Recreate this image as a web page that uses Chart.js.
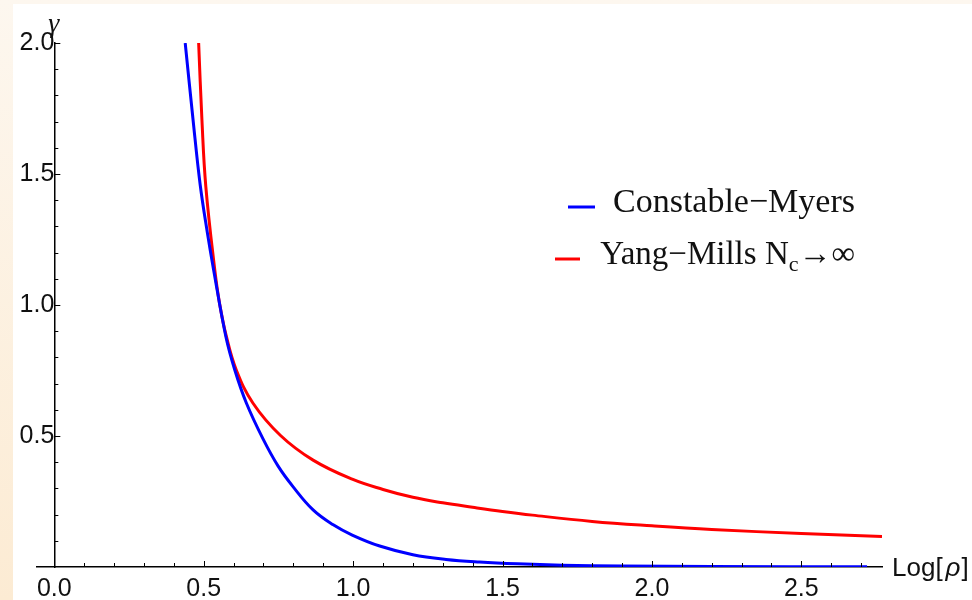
<!DOCTYPE html>
<html>
<head>
<meta charset="utf-8">
<script src="https://cdn.jsdelivr.net/npm/chart.js@4.4.1/dist/chart.umd.min.js"></script>
<style>
  html, body { margin: 0; padding: 0; }
  body {
    width: 972px; height: 600px; overflow: hidden; position: relative;
    background: linear-gradient(#fdf7ef, #fcebd3);
  }
  #panel { position: absolute; left: 13px; top: 4px; right: 0; bottom: 0; background: #fff; }
  #chart { position: absolute; left: 0; top: 0; }
</style>
</head>
<body>
<div id="panel"></div>
<canvas id="chart" width="972" height="600"></canvas>
<script>
// gamma as a function of Log[rho] for the two models
const cmLabel = 'Constable\u2212Myers';
const cmLogRho = [0.438, 0.464, 0.488, 0.513, 0.533, 0.574, 0.604, 0.643, 0.698, 0.749, 0.80,
                  0.866, 0.932, 0.997, 1.089, 1.20, 1.311, 1.423, 1.55, 1.70, 1.90, 2.20, 2.72];
const cmGamma  = [2.00, 1.71, 1.46, 1.27, 1.135, 0.88, 0.752, 0.625, 0.49, 0.385, 0.305,
                  0.218, 0.162, 0.122, 0.080, 0.047, 0.029, 0.019, 0.012, 0.007, 0.004, 0.002, 0.001];

// legend text is split so the "c" can be set as a subscript
const ymLabelParts = ['Yang\u2212Mills N', 'c', '\u2192\u221e'];
const ymLogRho = [0.483, 0.494, 0.507, 0.537, 0.553, 0.576, 0.609, 0.665, 0.757, 0.866,
                  0.997, 1.10, 1.20, 1.30, 1.40, 1.50, 1.60, 1.80, 2.00, 2.20, 2.50, 2.77];
const ymGamma  = [2.00, 1.706, 1.452, 1.134, 1.006, 0.879, 0.752, 0.625, 0.502, 0.408,
                  0.335, 0.296, 0.266, 0.245, 0.228, 0.212, 0.198, 0.174, 0.157, 0.143, 0.128, 0.116];

const xTickValues = [0.0, 0.5, 1.0, 1.5, 2.0, 2.5];
const yTickValues = [0.5, 1.0, 1.5, 2.0];
const minorStep = 0.1;

const textColor = '#111';
const sansFont = '"Liberation Sans", Arial, sans-serif';
const serifFont = '"Liberation Serif", "Times New Roman", serif';

const toPoints = (xs, ys) => xs.map((x, i) => ({ x: x, y: ys[i] }));

// Mathematica-style decorations: inward ticks, axis titles and the legend box
const axisDecor = {
    id: 'axisDecor',
    afterDatasetsDraw(chart) {
        const { ctx, scales: { x, y } } = chart;
        const x0 = x.getPixelForValue(0);
        const y0 = y.getPixelForValue(0);

        ctx.save();
        ctx.strokeStyle = '#000';
        ctx.lineWidth = 1;
        ctx.beginPath();
        // y ticks point right into the plot
        for (let i = 1; i * minorStep <= y.max + 1e-9; i++) {
            const py = Math.round(y.getPixelForValue(i * minorStep)) + 0.5;
            const len = i % 5 === 0 ? 6 : 4;
            ctx.moveTo(x0, py);
            ctx.lineTo(x0 + len, py);
        }
        // x ticks point up
        for (let i = 1; i * minorStep <= x.max + 1e-9; i++) {
            const px = Math.round(x.getPixelForValue(i * minorStep)) + 0.5;
            const len = i % 5 === 0 ? 6 : 4;
            ctx.moveTo(px, y0);
            ctx.lineTo(px, y0 - len);
        }
        ctx.stroke();
        ctx.restore();
    },
    afterDraw(chart) {
        const { ctx, chartArea, scales: { x, y } } = chart;
        const x0 = x.getPixelForValue(0);
        const y0 = y.getPixelForValue(0);
        const [cm, ym] = chart.data.datasets;

        ctx.save();
        ctx.fillStyle = textColor;
        ctx.textBaseline = 'alphabetic';

        // axis titles
        ctx.textAlign = 'left';
        ctx.font = 'italic 28px ' + serifFont;
        ctx.fillText('\u03b3', x0 - 6, chartArea.top - 11);

        let lx = chartArea.right + 10;
        const ly = y0 + 9;
        ctx.font = '26px ' + sansFont;
        ctx.fillText('Log[', lx, ly);
        lx += ctx.measureText('Log[').width + 3;
        ctx.font = 'italic 26px ' + sansFont;
        ctx.fillText('\u03c1', lx, ly);
        lx += ctx.measureText('\u03c1').width + 1;
        ctx.font = '26px ' + sansFont;
        ctx.fillText(']', lx, ly);

        // legend, right aligned
        const right = 855;
        ctx.textAlign = 'right';
        ctx.font = '34px ' + serifFont;
        ctx.fillText(cm.label, right, 212);

        let rx = right;
        ctx.font = '33px ' + serifFont;
        ctx.fillText(ymLabelParts[2], rx, 264);
        rx -= ctx.measureText(ymLabelParts[2]).width;
        ctx.font = '22px ' + serifFont;
        ctx.fillText(ymLabelParts[1], rx, 271);
        rx -= ctx.measureText(ymLabelParts[1]).width;
        ctx.font = '33px ' + serifFont;
        ctx.fillText(ymLabelParts[0], rx, 264);

        ctx.lineWidth = 3;
        ctx.strokeStyle = cm.borderColor;
        ctx.beginPath();
        ctx.moveTo(568, 207);
        ctx.lineTo(595, 207);
        ctx.stroke();
        ctx.strokeStyle = ym.borderColor;
        ctx.beginPath();
        ctx.moveTo(555, 259);
        ctx.lineTo(580, 259);
        ctx.stroke();
        ctx.restore();
    }
};

const lineStyle = {
    showLine: true,
    pointRadius: 0,
    borderWidth: 3,
    fill: false,
    tension: 0.4
};

const chart = new Chart(document.getElementById('chart'), {
    type: 'scatter',
    data: {
        datasets: [
            { ...lineStyle, label: cmLabel, data: toPoints(cmLogRho, cmGamma), borderColor: '#0000ff' },
            { ...lineStyle, label: ymLabelParts.join(''), data: toPoints(ymLogRho, ymGamma), borderColor: '#ff0000' }
        ]
    },
    options: {
        responsive: false,
        animation: false,
        layout: { padding: { left: 37, right: 90, top: 43, bottom: 0 } },
        plugins: {
            legend: { display: false },
            tooltip: { enabled: false }
        },
        scales: {
            x: {
                type: 'linear',
                min: -0.058,
                max: 2.77,
                grid: { display: false, drawTicks: false },
                border: { display: true, color: '#000', width: 1.5 },
                ticks: {
                    padding: 7,
                    color: textColor,
                    font: { family: sansFont, size: 25 },
                    callback: v => Number(v).toFixed(1)
                },
                afterBuildTicks: s => { s.ticks = xTickValues.map(v => ({ value: v })); },
                afterFit: s => { s.height = 33; }
            },
            y: {
                type: 'linear',
                position: { x: 0 },
                min: 0,
                max: 2,
                grid: { display: false, drawTicks: false },
                border: { display: true, color: '#000', width: 1.5 },
                ticks: {
                    padding: 8,
                    color: textColor,
                    font: { family: sansFont, size: 25 },
                    callback: v => Number(v).toFixed(1)
                },
                afterBuildTicks: s => { s.ticks = yTickValues.map(v => ({ value: v })); }
            }
        }
    },
    plugins: [axisDecor]
});
</script>
</body>
</html>
